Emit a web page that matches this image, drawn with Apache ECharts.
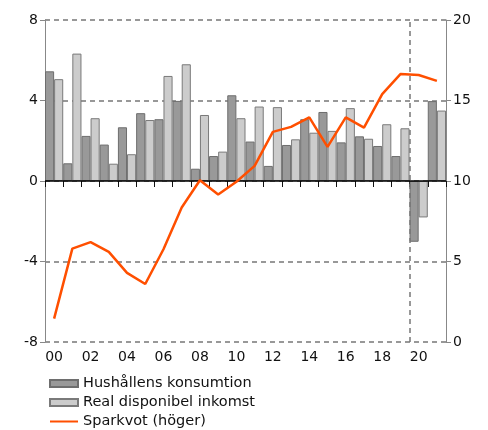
<!DOCTYPE html>
<html>
<head>
<meta charset="utf-8">
<script src="https://cdn.jsdelivr.net/npm/echarts@6/dist/echarts.min.js"></script>
<style>
  html, body { margin: 0; padding: 0; background: #fff; }
  #main { width: 488px; height: 430px; }
</style>
</head>
<body>
<div id="main"></div>
<script>
// år 2000-2021
var years = ["00","01","02","03","04","05","06","07","08","09","10",
             "11","12","13","14","15","16","17","18","19","20","21"];
// procent, vänster axel
var konsumtion = [5.45, 0.88, 2.24, 1.81, 2.67, 3.37, 3.07, 3.98, 0.61, 1.24, 4.26,
                  1.96, 0.75, 1.79, 3.07, 3.43, 1.92, 2.22, 1.74, 1.24, -3.02, 3.97];
var inkomst = [5.06, 6.33, 3.12, 0.86, 1.33, 3.03, 5.22, 5.8, 3.28, 1.46, 3.12,
               3.7, 3.67, 2.07, 2.4, 2.49, 3.62, 2.1, 2.82, 2.62, -1.81, 3.5];
// procent av disponibel inkomst, höger axel
var sparkvot = [1.45, 5.8, 6.2, 5.6, 4.29, 3.6, 5.76, 8.35, 10.05, 9.16, 9.95,
                10.94, 13.05, 13.36, 13.95, 12.12, 13.95, 13.32, 15.4, 16.64, 16.58, 16.22];

var font = "DejaVu Sans";
var chart = echarts.init(document.getElementById("main"));

chart.setOption({
  animation: false,
  textStyle: { fontFamily: font },
  grid: { left: 45, right: 42, top: 20, bottom: 88 },
  legend: {
    orient: "vertical",
    left: 49,
    top: 375,
    padding: 0,
    itemWidth: 28,
    itemHeight: 7,
    itemGap: 2,
    data: [
      { name: "Hushållens konsumtion", icon: "rect" },
      { name: "Real disponibel inkomst", icon: "rect" },
      { name: "Sparkvot (höger)", itemStyle: { opacity: 0 } }
    ],
    textStyle: { fontFamily: font, fontSize: 14.5, lineHeight: 17, color: "#111" }
  },
  xAxis: [
    {
      type: "category",
      data: years,
      axisLine: { show: false },
      axisTick: { show: true, interval: 0, length: 6, lineStyle: { color: "#111" } },
      axisLabel: { interval: 1, color: "#111", fontSize: 14, margin: 8 },
      splitLine: { show: false }
    },
    {
      // dold axel för den vertikala linjen vid 2020
      type: "value",
      min: 0,
      max: 22,
      show: false
    }
  ],
  yAxis: [
    {
      type: "value",
      min: -8,
      max: 8,
      interval: 4,
      axisLine: { show: true, lineStyle: { color: "#888" } },
      axisTick: { show: true, length: 5, lineStyle: { color: "#888" } },
      axisLabel: { color: "#111", fontSize: 14, margin: 7 },
      splitLine: { show: true, lineStyle: { color: "#777", type: [5, 4], width: 1.5 } }
    },
    {
      type: "value",
      min: 0,
      max: 20,
      interval: 5,
      position: "right",
      axisLine: { show: true, lineStyle: { color: "#888" } },
      axisTick: { show: true, length: 5, lineStyle: { color: "#888" } },
      axisLabel: { color: "#111", fontSize: 14, margin: 7 },
      splitLine: { show: false }
    }
  ],
  series: [
    {
      name: "Hushållens konsumtion",
      type: "bar",
      data: konsumtion,
      barGap: "0%",
      barCategoryGap: "0%",
      itemStyle: { color: "#999999", borderColor: "#6e6e6e", borderWidth: 1 },
      markLine: {
        silent: true,
        symbol: "none",
        label: { show: false },
        lineStyle: { color: "#000", type: "solid", width: 1.5 },
        data: [{ yAxis: 0 }]
      }
    },
    {
      name: "Real disponibel inkomst",
      type: "bar",
      data: inkomst,
      itemStyle: { color: "#cccccc", borderColor: "#7a7a7a", borderWidth: 1 }
    },
    {
      name: "Sparkvot (höger)",
      type: "line",
      yAxisIndex: 1,
      data: sparkvot,
      symbol: "none",
      z: 5,
      itemStyle: { color: "#ff4f00" },
      lineStyle: { color: "#ff4f00", width: 2.5 }
    },
    {
      name: "pandemi",
      type: "line",
      xAxisIndex: 1,
      yAxisIndex: 0,
      data: [],
      markLine: {
        silent: true,
        symbol: "none",
        label: { show: false },
        lineStyle: { color: "#777", type: [5, 4], width: 1.5 },
        data: [{ xAxis: 20 }]
      }
    }
  ]
});
</script>
</body>
</html>
